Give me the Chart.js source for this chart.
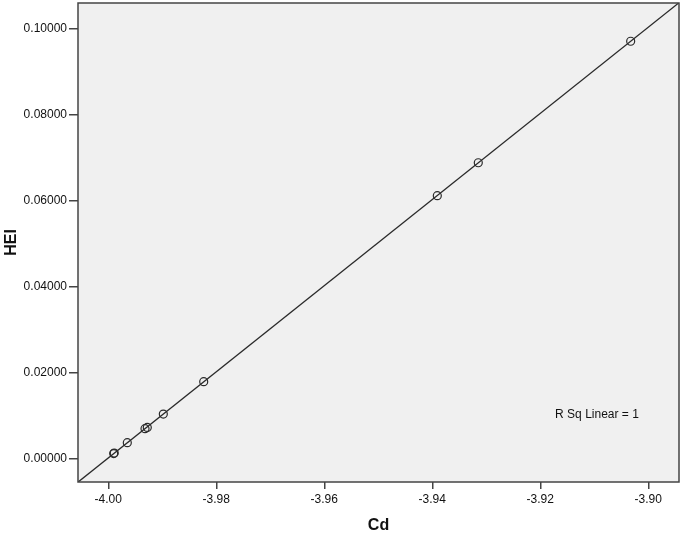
<!DOCTYPE html>
<html>
<head>
<meta charset="utf-8">
<script src="https://cdn.jsdelivr.net/npm/chart.js@4.4.0/dist/chart.umd.min.js"></script>
<style>
  html, body { margin: 0; padding: 0; background: #fff; }
  canvas { display: block; }
</style>
</head>
<body>
<canvas id="c" width="681" height="536"></canvas>
<script>
'use strict';

// ── Data ─────────────────────────────────────────────────────────
const cd  = [-3.9990, -3.9989, -3.99648, -3.99320, -3.99278, -3.98981, -3.98233, -3.93907, -3.93148, -3.90326];
const hei = [0.00118, 0.00128, 0.00371, 0.00696, 0.00726, 0.01035, 0.01787, 0.06109, 0.06875, 0.09698];

const xMin = -4.00561, xMax = -3.89431;
const yMin = -0.00543, yMax = 0.10587;
const xTitle = 'Cd';
const yTitle = 'HEI';
const rsqLabel = 'R Sq Linear = 1';

// ── Linear fit ───────────────────────────────────────────────────
function linFit(xs, ys) {
  const n = xs.length;
  const mx = xs.reduce((a, b) => a + b, 0) / n;
  const my = ys.reduce((a, b) => a + b, 0) / n;
  let sxy = 0, sxx = 0;
  for (let i = 0; i < n; i++) {
    sxy += (xs[i] - mx) * (ys[i] - my);
    sxx += (xs[i] - mx) ** 2;
  }
  const b = sxy / sxx;
  return { a: my - b * mx, b };
}
const fit = linFit(cd, hei);
const fitLine = [xMin, xMax].map((x) => ({ x, y: fit.a + fit.b * x }));

const AXIS = '#444444';
const FONT = 'Liberation Sans, Arial, sans-serif';

// ── Plugins ──────────────────────────────────────────────────────
const plotFrame = {
  id: 'plotFrame',
  beforeDraw(chart) {
    const { ctx, chartArea: a } = chart;
    ctx.save();
    ctx.fillStyle = '#f0f0f0';
    ctx.fillRect(a.left, a.top, a.right - a.left, a.bottom - a.top);
    ctx.restore();
  },
  afterDraw(chart) {
    const { ctx, chartArea: a, scales } = chart;
    ctx.save();
    ctx.strokeStyle = AXIS;
    ctx.lineWidth = 1.5;
    ctx.strokeRect(a.left, a.top, a.right - a.left, a.bottom - a.top);
    ctx.fillStyle = '#111';
    ctx.font = '12px ' + FONT;
    ctx.textAlign = 'center';
    ctx.textBaseline = 'middle';
    ctx.fillText(rsqLabel, scales.x.getPixelForValue(-3.9095), scales.y.getPixelForValue(0.01028));
    ctx.restore();
  },
};

// ── Chart ────────────────────────────────────────────────────────
new Chart(document.getElementById('c').getContext('2d'), {
  type: 'scatter',
  data: {
    datasets: [
      {
        type: 'line',
        data: fitLine,
        borderColor: '#2a2a2a',
        borderWidth: 1.3,
        pointRadius: 0,
        fill: false,
      },
      {
        data: cd.map((x, i) => ({ x, y: hei[i] })),
        pointStyle: 'circle',
        pointRadius: 4,
        borderColor: '#2a2a2a',
        borderWidth: 1.2,
        backgroundColor: 'rgba(0,0,0,0)',
      },
    ],
  },
  options: {
    responsive: false,
    animation: false,
    layout: { autoPadding: false, padding: { top: 3, right: 2, left: 0, bottom: 0 } },
    plugins: { legend: { display: false }, tooltip: { enabled: false } },
    scales: {
      x: {
        type: 'linear',
        min: xMin,
        max: xMax,
        afterFit: (s) => { s.height = 54; s.paddingLeft = 0; s.paddingRight = 0; },
        border: { display: false },
        grid: { drawOnChartArea: false, drawTicks: true, tickLength: 7, color: AXIS, lineWidth: 1.5 },
        ticks: {
          stepSize: 0.02,
          includeBounds: false,
          maxRotation: 0,
          padding: 3,
          color: '#111',
          font: { family: FONT, size: 12 },
          callback: (v) => Number(v).toFixed(2),
        },
        title: {
          display: true,
          text: xTitle,
          color: '#111',
          font: { family: FONT, size: 16, weight: 'bold' },
          padding: { top: 0, bottom: 1 },
        },
      },
      y: {
        type: 'linear',
        min: yMin,
        max: yMax,
        afterFit: (s) => { s.width = 78; s.paddingTop = 0; s.paddingBottom = 0; },
        border: { display: false },
        grid: { drawOnChartArea: false, drawTicks: true, tickLength: 9, color: AXIS, lineWidth: 1.5 },
        ticks: {
          stepSize: 0.02,
          includeBounds: false,
          padding: 2,
          color: '#111',
          font: { family: FONT, size: 12 },
          callback: (v) => Number(v).toFixed(5),
        },
        title: {
          display: true,
          text: yTitle,
          color: '#111',
          font: { family: FONT, size: 16, weight: 'bold' },
          padding: { top: 2, bottom: 0 },
        },
      },
    },
  },
  plugins: [plotFrame],
});
</script>
</body>
</html>
